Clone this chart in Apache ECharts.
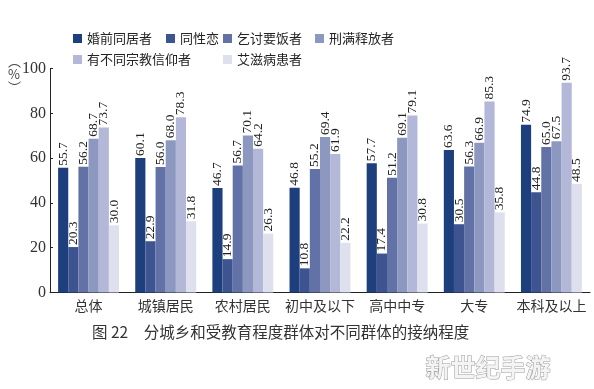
<!DOCTYPE html>
<html>
<head>
<meta charset="utf-8">
<script src="https://cdn.jsdelivr.net/npm/echarts@6/dist/echarts.min.js"></script>
<style>html,body{margin:0;padding:0;background:#fff;}#c{width:594px;height:389px;}</style>
</head>
<body>
<div id="c"></div>
<script>
const categories = ['总体','城镇居民','农村居民','初中及以下','高中中专','大专','本科及以上'];
const seriesNames = ['婚前同居者','同性恋','乞讨要饭者','刑满释放者','有不同宗教信仰者','艾滋病患者'];
const cohabit   = [55.7, 60.1, 46.7, 46.8, 57.7, 63.6, 74.9];
const homosex   = [20.3, 22.9, 14.9, 10.8, 17.4, 30.5, 44.8];
const beggars   = [56.2, 56.0, 56.7, 55.2, 51.2, 56.3, 65.0];
const released  = [68.7, 68.0, 70.1, 69.4, 69.1, 66.9, 67.5];
const religion  = [73.7, 78.3, 64.2, 61.9, 79.1, 85.3, 93.7];
const aids      = [30.0, 31.8, 26.3, 22.2, 30.8, 35.8, 48.5];
const yTicks = [0, 20, 40, 60, 80, 100];
const titleText = '图 22\u3000分城乡和受教育程度群体对不同群体的接纳程度';

const values = [cohabit, homosex, beggars, released, religion, aids];
const colors = ['#1d3f7e','#3e5490','#6272a6','#8d98c0','#b3b8d9','#dfe0ee'];
const legendPos = [[73,32],[166,32],[223,32],[315,32],[73,53],[223,53]];

const chart = echarts.init(document.getElementById('c'));
const series = values.map((v, i) => ({
  name: seriesNames[i],
  type: 'bar',
  data: v,
  barGap: '0%',
  barCategoryGap: '21%',
  itemStyle: { color: colors[i] },
  label: {
    show: true,
    position: 'top',
    rotate: 90,
    align: 'left',
    verticalAlign: 'middle',
    distance: 2,
    fontFamily: 'Liberation Serif',
    fontSize: 13.5,
    color: '#222',
    formatter: p => p.value.toFixed(1)
  }
}));

const legends = seriesNames.map((n, i) => ({
  data: [n],
  left: legendPos[i][0],
  top: legendPos[i][1],
  itemWidth: 9,
  itemHeight: 9,
  icon: 'rect',
  padding: 0,
  textStyle: { fontSize: 13, color: '#222', fontFamily: 'Noto Sans CJK SC' }
}));

chart.setOption({
  animation: false,
  legend: legends,
  grid: { left: 50, right: 4, top: 68.6, bottom: 96.5 },
  xAxis: {
    type: 'category',
    data: categories,
    axisLine: { lineStyle: { color: '#222', width: 1 } },
    axisTick: { inside: true, length: 4, lineStyle: { color: '#222' } },
    axisLabel: { fontSize: 14, color: '#333', margin: 6, fontFamily: 'Noto Sans CJK SC', interval: 0 }
  },
  yAxis: {
    type: 'value',
    min: 0, max: 100, interval: 20,
    splitLine: { show: false },
    axisLine: { show: true, lineStyle: { color: '#222', width: 1 } },
    axisTick: { show: true, inside: true, length: 3, lineStyle: { color: '#222' } },
    axisLabel: { fontSize: 16, color: '#333', margin: 4, fontFamily: 'Liberation Serif',
      formatter: v => yTicks.includes(v) ? String(v) : '' }
  },
  graphic: [
    { type: 'text', left: 8, top: 55,
      style: { text: '︵\n%\n︶', fontSize: 13, lineHeight: 13, align: 'center', fill: '#444', fontFamily: 'Noto Sans CJK SC' } },
    { type: 'text', left: 92, top: 324,
      style: { text: titleText, fontSize: 15.5, fill: '#333', fontFamily: 'Noto Sans CJK SC' } },
    { type: 'text', left: 425, top: 354,
      style: { text: '新世纪手游', fontSize: 25, fontWeight: 'bold', fill: '#f4f4f4', stroke: '#9a9a9a', lineWidth: 1, fontFamily: 'Noto Sans CJK SC' } }
  ],
  series: series
});
</script>
</body>
</html>
